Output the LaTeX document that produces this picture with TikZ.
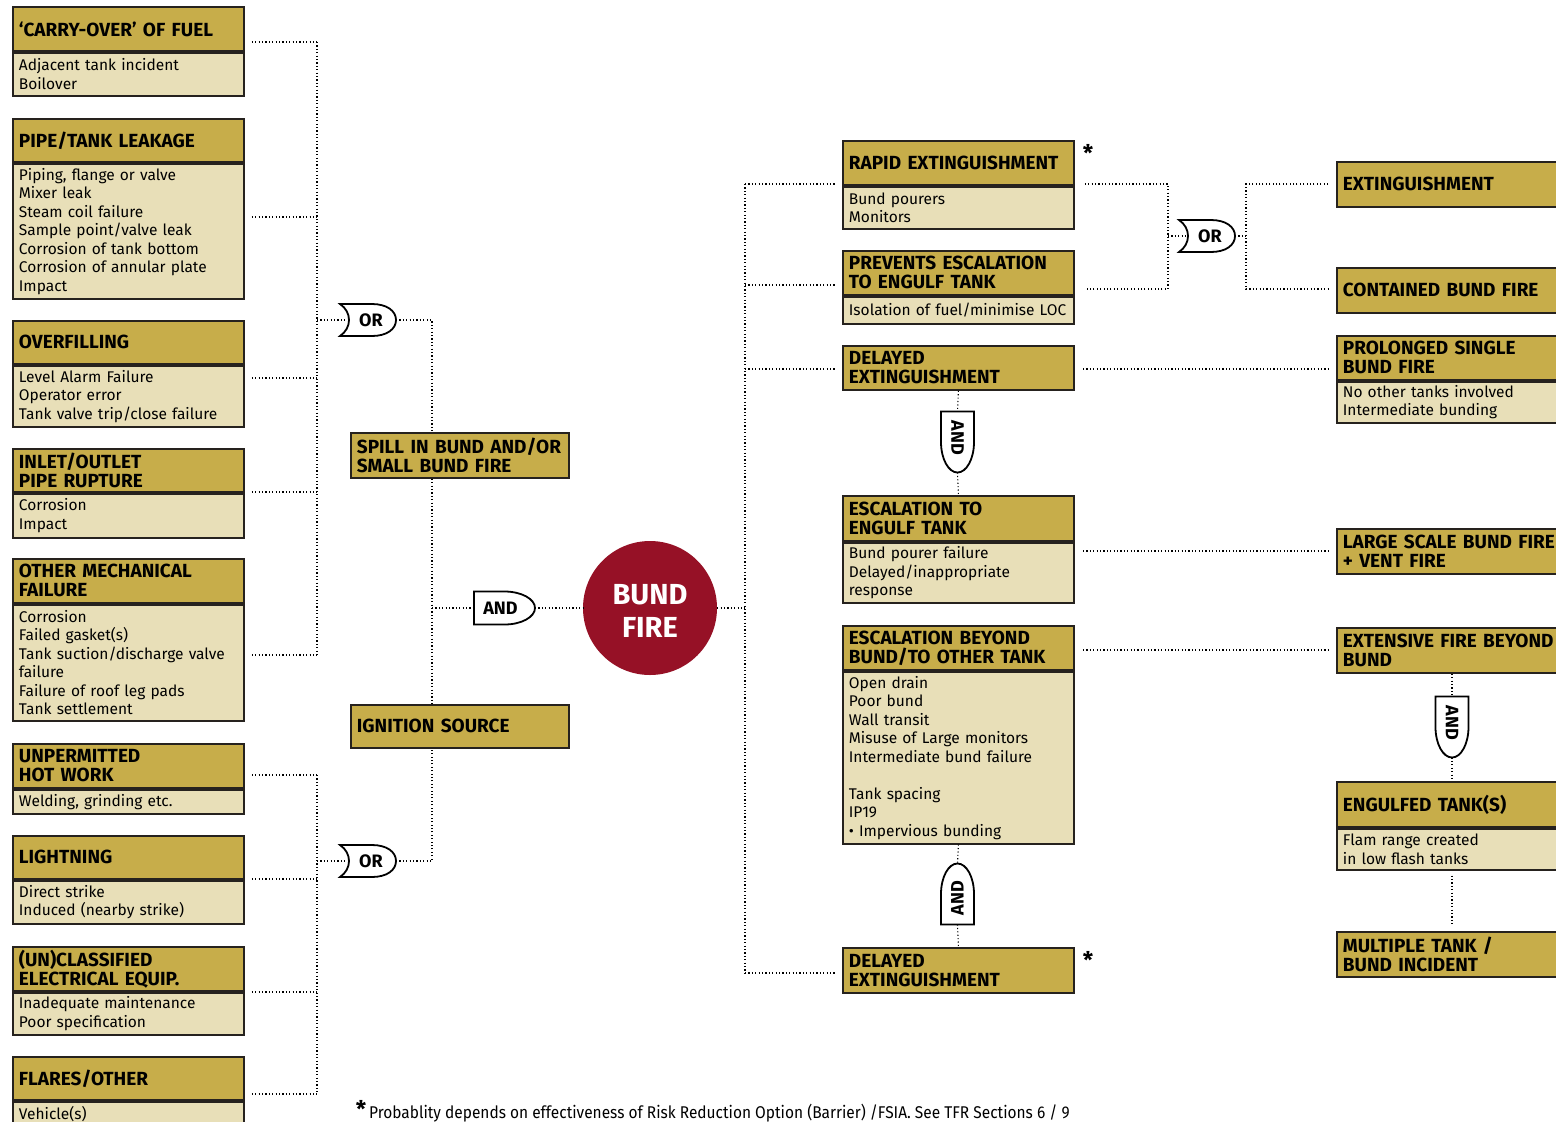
\documentclass[tikz,border=0pt]{standalone}
\usepackage{fontspec}
\setmainfont{Fira Sans}
\newfontfamily\footfont[FakeStretch=0.91]{Fira Sans}
\usetikzlibrary{calc}
\definecolor{gold}{RGB}{199,173,74}
\definecolor{pale}{RGB}{232,223,184}
\definecolor{bundred}{RGB}{150,17,38}
\definecolor{boxline}{RGB}{38,34,30}
\newcommand\hdrfont{\fontsize{19}{19}\selectfont\bfseries}
\newcommand\bdyfont{\fontsize{15.5}{18.5}\selectfont}
\tikzset{
  conn/.style={line width=1.1pt, dash pattern=on 1.1pt off 2.3pt, black},
  hdr/.style={draw=boxline, line width=1.8pt, fill=gold, anchor=north west,
    text width=219pt, minimum width=231pt, inner xsep=6pt, inner ysep=0pt,
    align=left, font=\hdrfont},
  bdy/.style={hdr, fill=pale, font=\bdyfont},
  rhdr/.style={hdr, text width=260pt},
  rbdy/.style={bdy, text width=260pt},
  gate/.style={draw=black, line width=1.8pt, fill=white},
  gatetxt/.style={font=\fontsize{18}{18}\selectfont\bfseries, inner sep=0pt},
  star/.style={font=\fontsize{23}{23}\selectfont\bfseries, inner sep=0pt, anchor=base},
}
\newcommand\orgate[3]{%
  \begin{scope}[shift={(#2,#3)}]
    \draw[gate] (-28,-16) -- (4,-16) .. controls (19,-16) and (28,-9) .. (28,0)
      .. controls (28,9) and (19,16) .. (4,16) -- (-28,16)
      .. controls (-16,8) and (-16,-8) .. (-28,-16) -- cycle;
    \node[gatetxt] (#1) at (3,0) {OR};
    \coordinate (#1-in) at (-19,0);
    \coordinate (#1-out) at (28,0);
  \end{scope}}
\newcommand\andgate[4]{%
  \begin{scope}[shift={(#2,#3)}, rotate=#4]
    \draw[gate] (-30.5,-16.5) -- (0,-16.5) .. controls (17,-16.5) and (30.5,-9) .. (30.5,0)
      .. controls (30.5,9) and (17,16.5) .. (0,16.5) -- (-30.5,16.5) -- cycle;
    \node[gatetxt, rotate=#4] (#1) at (-4,0) {AND};
    \coordinate (#1-in) at (-30.5,0);
    \coordinate (#1-out) at (30.5,0);
  \end{scope}}
\begin{document}
\begin{tikzpicture}[x=1pt, y=-1pt]
\useasboundingbox (0,0) rectangle (1556,1122);
\clip (0,0) rectangle (1556,1122);
\fill[white] (0,0) rectangle (1556,1122);

% ---------------- left column ----------------
\node[hdr, minimum height=44] (carry-h) at (12,6) {‘CARRY-OVER’ OF FUEL};
\node[bdy, minimum height=43] (carry-b) at (carry-h.south west) {Adjacent tank incident\\Boilover};

\node[hdr, minimum height=43] (pipe-h) at (12,118) {PIPE/TANK LEAKAGE};
\node[bdy, minimum height=135] (pipe-b) at (pipe-h.south west) {Piping, flange or valve\\Mixer leak\\Steam coil failure\\Sample point/valve leak\\Corrosion of tank bottom\\Corrosion of annular plate\\Impact};

\node[hdr, minimum height=43] (over-h) at (12,320) {OVERFILLING};
\node[bdy, minimum height=61] (over-b) at (over-h.south west) {Level Alarm Failure\\Operator error\\Tank valve trip/close failure};

\node[hdr, minimum height=43] (inlet-h) at (12,448) {INLET/OUTLET\\PIPE RUPTURE};
\node[bdy, minimum height=44] (inlet-b) at (inlet-h.south west) {Corrosion\\Impact};

\node[hdr, minimum height=44] (mech-h) at (12,558) {OTHER MECHANICAL\\FAILURE};
\node[bdy, minimum height=116] (mech-b) at (mech-h.south west) {Corrosion\\Failed gasket(s)\\\mbox{Tank suction/discharge valve}\\failure\\Failure of roof leg pads\\Tank settlement};

\node[hdr, minimum height=44] (hot-h) at (12,743) {UNPERMITTED\\HOT WORK};
\node[bdy, minimum height=24] (hot-b) at (hot-h.south west) {Welding, grinding etc.};

\node[hdr, minimum height=43] (light-h) at (12,835) {LIGHTNING};
\node[bdy, minimum height=43] (light-b) at (light-h.south west) {Direct strike\\Induced (nearby strike)};

\node[hdr, minimum height=44] (elec-h) at (12,946) {(UN)CLASSIFIED\\ELECTRICAL EQUIP.};
\node[bdy, minimum height=42] (elec-b) at (elec-h.south west) {Inadequate maintenance\\Poor specification};

\node[hdr, minimum height=43] (flare-h) at (12,1056) {FLARES/OTHER};
\node[bdy, minimum height=25] (flare-b) at (flare-h.south west) {Vehicle(s)};

% ---------------- left middle ----------------
\node[hdr, text width=206pt, minimum width=218pt, minimum height=45] (spill) at (350,432) {\mbox{SPILL IN BUND AND/OR}\\SMALL BUND FIRE};
\node[hdr, text width=206pt, minimum width=218pt, minimum height=43] (ign) at (350,704) {IGNITION SOURCE};

\orgate{orA}{368}{320}
\orgate{orB}{368}{861}
\andgate{andA}{504.5}{608}{0}

\node[circle, fill=bundred, minimum size=134pt, inner sep=0pt] (fire) at (650,608) {};
\node[text=white, inner sep=0pt, font=\fontsize{29}{33}\selectfont\bfseries, align=center] (fire-t) at (650,611) {BUND\\FIRE};

% ---------------- middle column ----------------
\node[hdr, minimum height=44] (rapid-h) at (842,140) {RAPID EXTINGUISHMENT};
\node[bdy, minimum height=42] (rapid-b) at (rapid-h.south west) {Bund pourers\\Monitors};
\node[star] (star1) at (1088,161) {*};

\node[hdr, minimum height=44] (prev-h) at (842,250) {PREVENTS ESCALATION\\TO ENGULF TANK};
\node[bdy, minimum height=27] (prev-b) at (prev-h.south west) {Isolation of fuel/minimise LOC};

\node[hdr, minimum height=44] (del1) at (842,345) {DELAYED\\EXTINGUISHMENT};

\andgate{andV1}{957.5}{442}{-90}

\node[hdr, minimum height=45] (eng-h) at (842,495) {ESCALATION TO\\ENGULF TANK};
\node[bdy, minimum height=60] (eng-b) at (eng-h.south west) {Bund pourer failure\\Delayed/inappropriate\\response};

\node[hdr, minimum height=44] (beyond-h) at (842,625) {ESCALATION BEYOND\\BUND/TO OTHER TANK};
\node[bdy, minimum height=172] (beyond-b) at (beyond-h.south west) {Open drain\\Poor bund\\Wall transit\\Misuse of Large monitors\\Intermediate bund failure\\[18.5pt]Tank spacing\\IP19\\\textbullet{} Impervious bunding};

\andgate{andV2}{957.5}{894}{90}

\node[hdr, minimum height=45] (del2) at (842,947) {DELAYED\\EXTINGUISHMENT};
\node[star] (star2) at (1088,968) {*};

\orgate{orC}{1207}{236}

% ---------------- right column ----------------
\node[rhdr, minimum height=45] (ext) at (1336,161) {EXTINGUISHMENT};
\node[rhdr, minimum height=45] (cont) at (1336,267) {CONTAINED BUND FIRE};
\node[rhdr, minimum height=44] (prol-h) at (1336,335) {PROLONGED SINGLE\\BUND FIRE};
\node[rbdy, minimum height=41] (prol-b) at (prol-h.south west) {No other tanks involved\\Intermediate bunding};
\node[rhdr, minimum height=45] (large) at (1336,528) {LARGE SCALE BUND FIRE\\+ VENT FIRE};
\node[rhdr, minimum height=45] (exten) at (1336,627) {EXTENSIVE FIRE BEYOND\\BUND};
\andgate{andR}{1452}{727}{-90}
\node[rhdr, minimum height=45] (engf-h) at (1336,781) {ENGULFED TANK(S)};
\node[rbdy, minimum height=41] (engf-b) at (engf-h.south west) {Flam range created\\in low flash tanks};
\node[rhdr, minimum height=45] (multi) at (1336,931) {MULTIPLE TANK /\\BUND INCIDENT};

% ---------------- footnote ----------------
\node[star] (star3) at (361,1117) {*};
\node[anchor=base west, inner sep=0pt, font=\footfont\fontsize{17}{17}\selectfont] (note) at (369,1118.5)
  {Probablity depends on effectiveness of Risk Reduction Option (Barrier) /FSIA. See TFR Sections 6 / 9};

% ---------------- connectors: left ----------------
\coordinate (a1) at (317,42);
\coordinate (a2) at (317,217);
\coordinate (a3) at (317,378);
\coordinate (a4) at (317,492);
\coordinate (a5) at (317,655);
\coordinate (aor) at (317,320);
\draw[conn] (a1) -- (a5);
\draw[conn] ($(carry-h.east |- a1)+(7,0)$) -- (a1);
\draw[conn] ($(pipe-b.east |- a2)+(7,0)$) -- (a2);
\draw[conn] ($(over-b.east |- a3)+(7,0)$) -- (a3);
\draw[conn] ($(inlet-b.east |- a4)+(7,0)$) -- (a4);
\draw[conn] ($(mech-b.east |- a5)+(7,0)$) -- (a5);
\draw[conn] (aor) -- (orA-in);
\draw[conn] (orA-out) -| ($(spill.north west)+(82,0)$);

\coordinate (b1) at (317,775);
\coordinate (b2) at (317,879);
\coordinate (b3) at (317,992);
\coordinate (b4) at (317,1094);
\coordinate (bor) at (317,861);
\draw[conn] (b1) -- (b4);
\draw[conn] ($(hot-h.east |- b1)+(7,0)$) -- (b1);
\draw[conn] ($(light-h.east |- b2)+(7,0)$) -- (b2);
\draw[conn] ($(elec-h.east |- b3)+(7,0)$) -- (b3);
\draw[conn] ($(flare-h.east |- b4)+(7,0)$) -- (b4);
\draw[conn] (bor) -- (orB-in);
\draw[conn] (orB-out) -| ($(ign.south west)+(82,0)$);

\draw[conn] ($(spill.south west)+(82,0)$) -- ($(ign.north west)+(82,0)$);
\coordinate (sj) at (432,608);
\draw[conn] (sj) -- (andA-in);
\draw[conn] (andA-out) -- (fire);

% ---------------- connectors: middle ----------------
\coordinate (m1) at (745,184);
\coordinate (m2) at (745,285);
\coordinate (m3) at (745,369);
\coordinate (m4) at (745,973);
\coordinate (mf) at (745,608);
\draw[conn] (m1) -- (m4);
\draw[conn] (fire) -- (mf);
\draw[conn] (m1) -- ($(rapid-h.west |- m1)+(-7,0)$);
\draw[conn] (m2) -- ($(prev-h.west |- m2)+(-7,0)$);
\draw[conn] (m3) -- ($(del1.west |- m3)+(-7,0)$);
\draw[conn] (m4) -- ($(del2.west |- m4)+(-7,0)$);

\draw[conn] (del1.south) -- (andV1-in);
\draw[conn] (andV1-out) -- (eng-h.north);
\draw[conn] (beyond-b.south) -- (andV2-out);
\draw[conn] (andV2-in) -- (del2.north);

% ---------------- connectors: right ----------------
\coordinate (r1) at (1168,184);
\coordinate (r2) at (1168,289);
\coordinate (rc) at (1168,236);
\coordinate (s1) at (1246,184);
\coordinate (s2) at (1246,289);
\coordinate (sc) at (1246,236);
\draw[conn] ($(rapid-h.east |- r1)+(10,0)$) -- (r1) -- (r2) -- ($(prev-h.east |- r2)+(10,0)$);
\draw[conn] (rc) -- (orC-in);
\draw[conn] (orC-out) -- (sc);
\draw[conn] ($(ext.west |- s1)+(-8,0)$) -- (s1) -- (s2) -- ($(cont.west |- s2)+(-8,0)$);

\coordinate (d1) at (1083,369);
\draw[conn] (d1) -- ($(prol-h.west |- d1)+(-8,0)$);
\coordinate (d2) at (1083,551);
\draw[conn] (d2) -- ($(large.west |- d2)+(-8,0)$);
\coordinate (d3) at (1083,650);
\draw[conn] (d3) -- ($(exten.west |- d3)+(-8,0)$);

\draw[conn] (andR-in |- exten.south) -- (andR-in);
\draw[conn] (andR-out) -- (andR-out |- engf-h.north);
\draw[conn] ($(andR-in |- engf-b.south)+(0,5)$) -- ($(andR-in |- multi.north)+(0,-6)$);
\end{tikzpicture}
\end{document}
